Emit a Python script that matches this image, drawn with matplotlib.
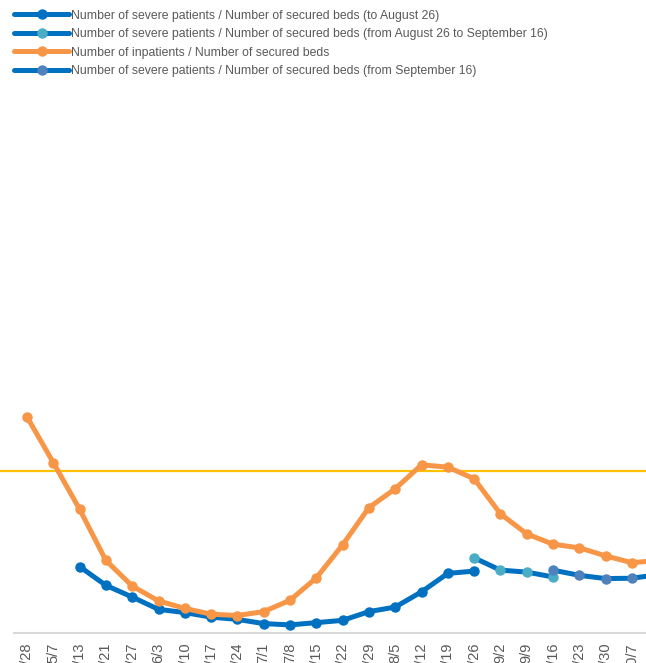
import numpy as np
import matplotlib
matplotlib.use("Agg")
import matplotlib.pyplot as plt

plt.rcParams['font.family'] = ['Liberation Sans', 'DejaVu Sans']

dates = ["4/28", "5/7", "5/13", "5/21", "5/27", "6/3", "6/10", "6/17", "6/24",
         "7/1", "7/8", "7/15", "7/22", "7/29", "8/5", "8/12", "8/19", "8/26",
         "9/2", "9/9", "9/16", "9/23", "9/30", "10/7", "10/14"]

N = None
inpatients = [66.7, 52.6, 38.2, 22.4, 14.5, 9.9, 7.6, 5.8, 5.4,
              6.6, 10.1, 17.0, 27.2, 38.7, 44.5, 51.9, 51.2, 47.6,
              36.8, 30.6, 27.4, 26.3, 23.8, 21.7, 22.4]
severe_to_aug26 = [N, N, 20.5, 14.7, 11.1, 7.3, 6.3, 4.9, 4.2,
                   2.9, 2.5, 3.2, 3.9, 6.6, 8.0, 12.7, 18.4, 19.1,
                   N, N, N, N, N, N, N]
severe_aug26_sep16 = [N] * 17 + [23.2, 19.4, 18.8, 17.3] + [N] * 4
severe_from_sep16 = [N] * 20 + [19.4, 17.8, 16.8, 16.9, 18.0]
threshold = 50

labels = ["Number of severe patients / Number of secured beds (to August 26)",
          "Number of severe patients / Number of secured beds (from August 26 to September 16)",
          "Number of inpatients / Number of secured beds",
          "Number of severe patients / Number of secured beds (from September 16)"]

def arr(v):
    return np.array([np.nan if x is None else x for x in v], dtype=float)

W, H = 646, 663
fig = plt.figure(figsize=(W / 100, H / 100), dpi=100)
ax_bottom_px, ax_top_px = 633, 91
ax = fig.add_axes([0, (H - ax_bottom_px) / H, 1, (ax_bottom_px - ax_top_px) / H])

x = np.arange(len(dates))

blue = "#0070C0"
lw = 3.6
ms = 6.5

ax.axhline(threshold, color="#FFC000", lw=1.6, zorder=1)

l1, = ax.plot(x, arr(severe_to_aug26), color=blue, lw=lw, marker="o", ms=ms,
              mfc=blue, mec=blue, label=labels[0], zorder=2, solid_capstyle='round')
l2, = ax.plot(x, arr(severe_aug26_sep16), color=blue, lw=lw, marker="o", ms=ms,
              mfc="#4BACC6", mec="#4BACC6", label=labels[1], zorder=3, solid_capstyle='round')
l3, = ax.plot(x, arr(inpatients), color="#F79646", lw=lw, marker="o", ms=ms,
              mfc="#F79646", mec="#F79646", label=labels[2], zorder=4, solid_capstyle='round')
l4, = ax.plot(x, arr(severe_from_sep16), color=blue, lw=lw, marker="o", ms=ms,
              mfc="#4F81BD", mec="#4F81BD", label=labels[3], zorder=5, solid_capstyle='round')

ax.set_xticks(x)
ax.set_xticklabels(dates, rotation=90, fontsize=10.5, color="#595959")
ax.tick_params(axis='x', length=0, pad=7)
ax.set_yticks([])

px_per_cat = 26.3
x0 = -27 / px_per_cat
x1 = x0 + W / px_per_cat
ax.set_xlim(x0, x1)
ax.set_ylim(0, (ax_bottom_px - ax_top_px) / 3.24)

for s in ["top", "left", "right"]:
    ax.spines[s].set_visible(False)
ax.spines["bottom"].set_color("#D9D9D9")
ax.spines["bottom"].set_linewidth(1.5)
ax.spines["bottom"].set_bounds(x0 + 14 / px_per_cat, x1)

fig.legend(handles=[l1, l2, l3, l4], loc="upper left",
           bbox_to_anchor=(14 / W, 1 - 9.5 / H), frameon=False, fontsize=8.85,
           labelcolor="#595959", handlelength=4.5, handletextpad=0.12,
           borderpad=0, borderaxespad=0, labelspacing=0.54)

fig.savefig("out.png", dpi=100)
